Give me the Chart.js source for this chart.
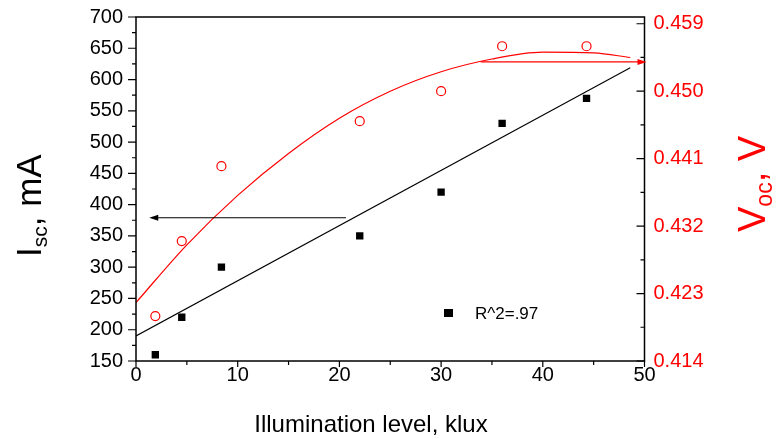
<!DOCTYPE html>
<html lang="en">
<head>
  <meta charset="UTF-8" />
  <title>Isc and Voc vs illumination</title>
  <script src="https://cdn.jsdelivr.net/npm/chart.js"></script>
  <style>
    body {
      margin: 0;
      background: #ffffff;
    }

    .wrap {
      width: 782px;
      height: 439px;
    }
  </style>
</head>
<body>
  <div class="wrap">
    <canvas id="ivChart"></canvas>
  </div>

  <script>
    // measured points
    const illumination = [1.9, 4.5, 8.4, 22.0, 30.0, 36.0, 44.3];
    const iscValues = [160, 220, 300, 350, 420, 530, 570];
    const vocValues = [0.420, 0.430, 0.440, 0.446, 0.450, 0.456, 0.456];

    // fitted lines
    const iscFitX = [0, 48.6];
    const iscFitY = [190, 619];
    const vocFitX = [0, 5, 10, 15, 20, 25, 30, 35, 40, 45, 48.6];
    const vocFitY = [0.4218, 0.4295, 0.4361, 0.4417, 0.4464, 0.4500, 0.4526, 0.4543, 0.4552, 0.4551, 0.4545];

    // axes
    const xTicks = [0, 10, 20, 30, 40, 50];
    const iscTicks = [150, 200, 250, 300, 350, 400, 450, 500, 550, 600, 650, 700];
    const vocTicks = [0.414, 0.423, 0.432, 0.441, 0.450, 0.459];
    const vocMax = 0.4599;

    // arrows pointing at the axis of each series
    const iscArrow = { y: 379, from: 20.65, to: 1.3 };
    const vocArrow = { y: 0.4539, from: 33.9, to: 50 };

    const legendText = 'R^2=.97';
    const FONT = "'Liberation Sans', Arial, sans-serif";
    const RED = '#ff0000';

    const toPoints = (xs, ys) => xs.map((x, i) => ({ x: x, y: ys[i] }));

    function arrow(ctx, x1, y, x2, color) {
      const dir = x2 > x1 ? 1 : -1;
      ctx.strokeStyle = color;
      ctx.fillStyle = color;
      ctx.lineWidth = 1.2;
      ctx.beginPath();
      ctx.moveTo(x1, y);
      ctx.lineTo(x2 - dir * 6, y);
      ctx.stroke();
      ctx.beginPath();
      ctx.moveTo(x2, y);
      ctx.lineTo(x2 - dir * 9, y - 3);
      ctx.lineTo(x2 - dir * 9, y + 3);
      ctx.closePath();
      ctx.fill();
    }

    // rotated title with a subscript, reads bottom to top
    function sideTitle(ctx, x, yStart, main, sub, rest, size, subSize, color) {
      ctx.save();
      ctx.translate(x, yStart);
      ctx.rotate(-Math.PI / 2);
      ctx.fillStyle = color;
      ctx.textAlign = 'left';
      ctx.textBaseline = 'alphabetic';
      let pos = 0;
      ctx.font = size + 'px ' + FONT;
      ctx.fillText(main, pos, 0);
      pos += ctx.measureText(main).width;
      ctx.font = subSize + 'px ' + FONT;
      ctx.fillText(sub, pos, subSize * 0.3);
      pos += ctx.measureText(sub).width;
      ctx.font = size + 'px ' + FONT;
      ctx.fillText(rest, pos, 0);
      ctx.restore();
    }

    // keep the plot box where the reference has it
    const fitVertical = width => s => {
      s.width = width;
      s.paddingTop = 0;
      s.paddingBottom = 0;
    };

    const framePlugin = {
      id: 'frame',
      afterDatasetsDraw(chart) {
        const ctx = chart.ctx;
        const a = chart.chartArea;
        const sx = chart.scales.x;
        const sy = chart.scales.y;
        const sv = chart.scales.y2;
        ctx.save();

        ctx.strokeStyle = '#000';
        ctx.lineWidth = 1.5;
        ctx.strokeRect(a.left, a.top, a.right - a.left, a.bottom - a.top);

        ctx.lineWidth = 1.2;
        ctx.beginPath();
        // bottom ticks, major and minor, outward
        for (let v = 0; v <= 50; v += 5) {
          const px = sx.getPixelForValue(v);
          ctx.moveTo(px, a.bottom);
          ctx.lineTo(px, a.bottom + (v % 10 === 0 ? 6 : 4));
        }
        // left ticks, outward
        for (let v = 150; v <= 700; v += 25) {
          const py = sy.getPixelForValue(v);
          ctx.moveTo(a.left, py);
          ctx.lineTo(a.left - (v % 50 === 0 ? 8 : 4), py);
        }
        // right ticks, inward
        for (let v = vocTicks[0]; v <= vocMax; v += 0.0045) {
          const py = sv.getPixelForValue(v);
          const major = Math.round((v - vocTicks[0]) / 0.0045) % 2 === 0;
          ctx.moveTo(a.right, py);
          ctx.lineTo(a.right - (major ? 8 : 4), py);
        }
        ctx.stroke();

        arrow(ctx, sx.getPixelForValue(iscArrow.from), sy.getPixelForValue(iscArrow.y),
          sx.getPixelForValue(iscArrow.to), '#000');
        arrow(ctx, sx.getPixelForValue(vocArrow.from), sv.getPixelForValue(vocArrow.y),
          sx.getPixelForValue(vocArrow.to) + 2, RED);

        // legend inside the plot
        ctx.fillStyle = '#000';
        ctx.fillRect(444, 309, 9, 8);
        ctx.font = '17px ' + FONT;
        ctx.textBaseline = 'middle';
        ctx.textAlign = 'left';
        ctx.fillText(legendText, 475, 314);

        // axis titles
        ctx.font = '24px ' + FONT;
        ctx.textAlign = 'center';
        ctx.textBaseline = 'alphabetic';
        ctx.fillText('Illumination level, klux', 371, 432);

        sideTitle(ctx, 41, 257, 'I', 'sc', ', mA', 35, 21, '#000');
        sideTitle(ctx, 765, 232, 'V', 'oc', ', V', 38, 23, RED);
        ctx.restore();
      }
    };

    new Chart(document.getElementById('ivChart'), {
      type: 'scatter',
      data: {
        datasets: [
          {
            label: 'Isc',
            data: toPoints(illumination, iscValues),
            yAxisID: 'y',
            pointStyle: 'rect',
            pointRadius: 5.2,
            backgroundColor: '#000',
            borderWidth: 0
          },
          {
            label: 'Voc',
            data: toPoints(illumination, vocValues),
            yAxisID: 'y2',
            pointStyle: 'circle',
            pointRadius: 4.5,
            backgroundColor: 'rgba(0,0,0,0)',
            borderColor: RED,
            borderWidth: 1.2
          },
          {
            label: 'Isc fit',
            type: 'line',
            data: toPoints(iscFitX, iscFitY),
            yAxisID: 'y',
            borderColor: '#000',
            borderWidth: 1.1,
            pointRadius: 0,
            fill: false
          },
          {
            label: 'Voc fit',
            type: 'line',
            data: toPoints(vocFitX, vocFitY),
            yAxisID: 'y2',
            borderColor: RED,
            borderWidth: 1.2,
            pointRadius: 0,
            tension: 0.4,
            cubicInterpolationMode: 'monotone',
            fill: false
          }
        ]
      },
      options: {
        responsive: true,
        maintainAspectRatio: false,
        animation: false,
        layout: { padding: { top: 17, left: 0, right: 0, bottom: 0 } },
        plugins: {
          legend: { display: false },
          tooltip: { enabled: false }
        },
        scales: {
          x: {
            type: 'linear',
            min: 0,
            max: 50,
            afterBuildTicks: s => { s.ticks = xTicks.map(v => ({ value: v })); },
            afterFit: s => { s.height = 78; s.paddingLeft = 0; s.paddingRight = 0; },
            grid: { display: false, drawTicks: false },
            border: { display: false },
            ticks: { color: '#000', font: { family: FONT, size: 20 }, padding: 2 }
          },
          y: {
            position: 'left',
            min: 150,
            max: 700,
            afterBuildTicks: s => { s.ticks = iscTicks.map(v => ({ value: v })); },
            afterFit: fitVertical(136),
            grid: { display: false, drawTicks: false },
            border: { display: false },
            ticks: { color: '#000', font: { family: FONT, size: 20 }, padding: 13 }
          },
          y2: {
            position: 'right',
            min: vocTicks[0],
            max: vocMax,
            afterBuildTicks: s => { s.ticks = vocTicks.map(v => ({ value: v })); },
            afterFit: fitVertical(137.5),
            grid: { display: false, drawTicks: false },
            border: { display: false },
            ticks: {
              color: RED,
              font: { family: FONT, size: 20 },
              padding: 9,
              callback: v => v.toFixed(3)
            }
          }
        }
      },
      plugins: [framePlugin]
    });
  </script>
</body>
</html>
